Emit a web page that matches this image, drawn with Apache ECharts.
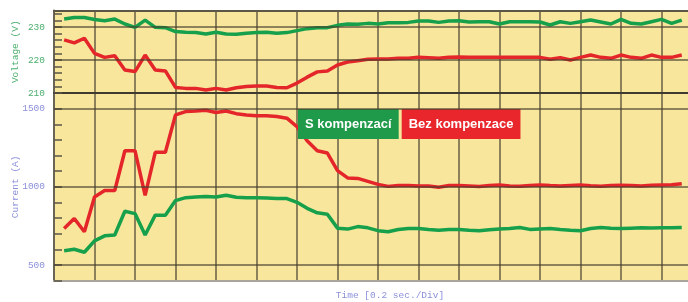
<!DOCTYPE html>
<html>
<head>
<meta charset="utf-8">
<style>
  html, body { margin: 0; padding: 0; background: #fff; }
  #chart { width: 688px; height: 302px; }
</style>
</head>
<body>
<div id="chart"></div>
<script src="https://cdn.jsdelivr.net/npm/echarts@6/dist/echarts.min.js"></script>
<script>
// napeti a proud, vzorek kazdych 0.05 s (0.2 s na dilek)
const voltageWith = [232.4, 232.9, 232.9, 232.3, 231.9, 232.4, 230.9, 229.9, 232.1, 229.9,
  229.8, 228.6, 228.4, 228.3, 227.9, 228.4, 227.9, 227.8, 228.1, 228.3,
  228.4, 228.1, 228.3, 228.9, 229.5, 229.8, 229.8, 230.5, 230.9, 230.8,
  231.1, 230.9, 231.3, 231.3, 231.4, 231.8, 231.8, 231.4, 231.8, 231.9,
  231.5, 231.6, 231.6, 230.9, 231.6, 231.6, 231.6, 231.5, 230.6, 231.6,
  231.1, 231.6, 232.1, 231.5, 230.9, 232.3, 231.1, 230.9, 231.6, 232.3,
  231.1, 232.1];
const voltageWithout = [226.1, 225.2, 226.6, 222.0, 220.8, 221.3, 217.0, 216.5, 221.5, 217.0,
  216.7, 211.7, 211.4, 211.4, 210.9, 211.4, 210.9, 211.6, 212.0, 212.1,
  212.1, 211.7, 211.6, 213.0, 214.8, 216.4, 216.7, 218.5, 219.4, 219.8,
  220.2, 220.3, 220.3, 220.5, 220.5, 220.8, 220.7, 220.5, 220.8, 220.9,
  220.8, 220.8, 220.8, 220.8, 220.8, 220.8, 220.8, 220.8, 220.2, 220.7,
  220.0, 220.8, 221.5, 220.8, 220.5, 221.5, 220.8, 220.5, 221.5, 220.8,
  220.8, 221.5];
const currentWith = [592, 601, 582, 655, 687, 692, 844, 829, 692, 819,
  819, 912, 931, 935, 939, 935, 946, 933, 931, 931,
  928, 925, 925, 901, 863, 834, 825, 736, 730, 746,
  738, 720, 713, 727, 734, 734, 728, 723, 728, 728,
  722, 719, 725, 730, 734, 740, 728, 731, 734, 728,
  723, 719, 734, 740, 735, 733, 736, 738, 737, 738,
  739, 740];
const currentWithout = [734, 798, 713, 935, 977, 977, 1231, 1231, 946, 1221,
  1221, 1460, 1481, 1485, 1490, 1475, 1485, 1468, 1460, 1454,
  1454, 1450, 1439, 1384, 1295, 1231, 1216, 1104, 1057, 1054,
  1035, 1016, 1003, 1009, 1009, 1005, 1005, 998, 1009, 1009,
  1006, 1002, 1008, 1012, 1006, 1004, 1009, 1012, 1008, 1005,
  1009, 1012, 1007, 1004, 1008, 1011, 1009, 1006, 1010, 1012,
  1013, 1020];
const voltageTicks = [210, 220, 230];
const currentTicks = [500, 1000, 1500];
const times = voltageWith.map((v, i) => +(0.05 * (i + 1)).toFixed(2));

const nameWith = 'S kompenzací';
const nameWithout = 'Bez kompenzace';

const green = '#17a04b';
const red = '#e4262a';
const gridDark = 'rgba(70, 62, 45, 0.8)';
const mono = 'Liberation Mono';

function pairs(values) {
  return times.map((t, i) => [t, values[i]]);
}

function xAxisFor(grid, extra) {
  return Object.assign({
    gridIndex: grid,
    type: 'value',
    min: 0,
    max: 3.2,
    interval: 0.2,
    axisLabel: { show: false },
    axisTick: { show: false },
    axisLine: { lineStyle: { color: '#3f3a2e', width: 2 } },
    splitLine: { show: true, lineStyle: { color: gridDark, width: 1.5 } }
  }, extra);
}

function yAxisFor(grid, min, max, step, majors, color, name) {
  return {
    gridIndex: grid,
    type: 'value',
    min: min,
    max: max,
    interval: step,
    name: name,
    nameLocation: 'middle',
    nameGap: 34,
    nameMoveOverlap: false,
    nameTextStyle: { color: color, fontFamily: mono, fontSize: 9.5 },
    axisLine: { show: true, lineStyle: { color: '#6b6556', width: 2 } },
    axisTick: { show: true, inside: true, length: 8, lineStyle: { color: '#5b5646', width: 1.5 } },
    axisLabel: {
      color: color,
      fontFamily: mono,
      fontSize: 9.5,
      margin: 9,
      formatter: function (v) {
        return majors.indexOf(v) >= 0 ? String(v) : '';
      }
    },
    splitLine: { show: false }
  };
}

function majorLines(xi, yi, values) {
  return {
    type: 'line',
    name: 'grid' + yi,
    xAxisIndex: xi,
    yAxisIndex: yi,
    data: [],
    z: 1,
    silent: true,
    markLine: {
      silent: true,
      symbol: 'none',
      label: { show: false },
      lineStyle: { color: gridDark, width: 1.5, type: 'solid' },
      data: values.map(v => ({ yAxis: v }))
    }
  };
}

function dataLine(name, values, color, xi, yi) {
  return {
    type: 'line',
    name: name,
    xAxisIndex: xi,
    yAxisIndex: yi,
    data: pairs(values),
    showSymbol: false,
    z: 3,
    lineStyle: { color: color, width: 3.5 },
    itemStyle: { color: color }
  };
}

const chart = echarts.init(document.getElementById('chart'), null, { renderer: 'canvas' });

chart.setOption({
  animation: false,
  backgroundColor: '#ffffff',
  grid: [
    { left: 54, top: 10.5, width: 648, height: 82.5, show: true, backgroundColor: '#f7e69c', borderWidth: 0, outerBoundsMode: 'none', containLabel: false },
    { left: 54, top: 93, width: 648, height: 187.7, show: true, backgroundColor: '#f7e69c', borderWidth: 0, outerBoundsMode: 'none', containLabel: false }
  ],
  legend: {
    left: 292,
    top: 109,
    padding: 0,
    itemWidth: 0,
    itemHeight: 0,
    itemGap: -3,
    selectedMode: false,
    data: [
      { name: nameWith, textStyle: { backgroundColor: '#1e9a4a' } },
      { name: nameWithout, textStyle: { backgroundColor: '#e8262b' } }
    ],
    textStyle: {
      color: '#ffffff',
      fontFamily: 'Liberation Sans',
      fontWeight: 'bold',
      fontSize: 13,
      lineHeight: 14,
      padding: [8, 7, 8, 7]
    }
  },
  xAxis: [
    xAxisFor(0, { position: 'bottom' }),
    xAxisFor(1, {
      position: 'bottom',
      axisLine: { lineStyle: { color: '#a9a59c', width: 2 } },
      name: 'Time [0.2 sec./Div]',
      nameLocation: 'middle',
      nameGap: 10,
      nameMoveOverlap: false,
      nameTextStyle: { color: '#8c90da', fontFamily: mono, fontSize: 9.5, padding: [0, 0, 0, 24] }
    }),
    xAxisFor(0, { position: 'top', splitLine: { show: false }, axisLine: { lineStyle: { color: '#5b5646', width: 2 } } })
  ],
  yAxis: [
    yAxisFor(0, 210, 235, 2, voltageTicks, '#4caf6e', 'Voltage (V)'),
    yAxisFor(1, 400, 1600, 100, currentTicks, '#8c90da', 'Current (A)')
  ],
  series: [
    majorLines(0, 0, voltageTicks.slice(1)),
    majorLines(1, 1, currentTicks),
    dataLine(nameWith, voltageWith, green, 0, 0),
    dataLine(nameWithout, voltageWithout, red, 0, 0),
    dataLine(nameWith, currentWith, green, 1, 1),
    dataLine(nameWithout, currentWithout, red, 1, 1)
  ]
});
</script>
</body>
</html>
